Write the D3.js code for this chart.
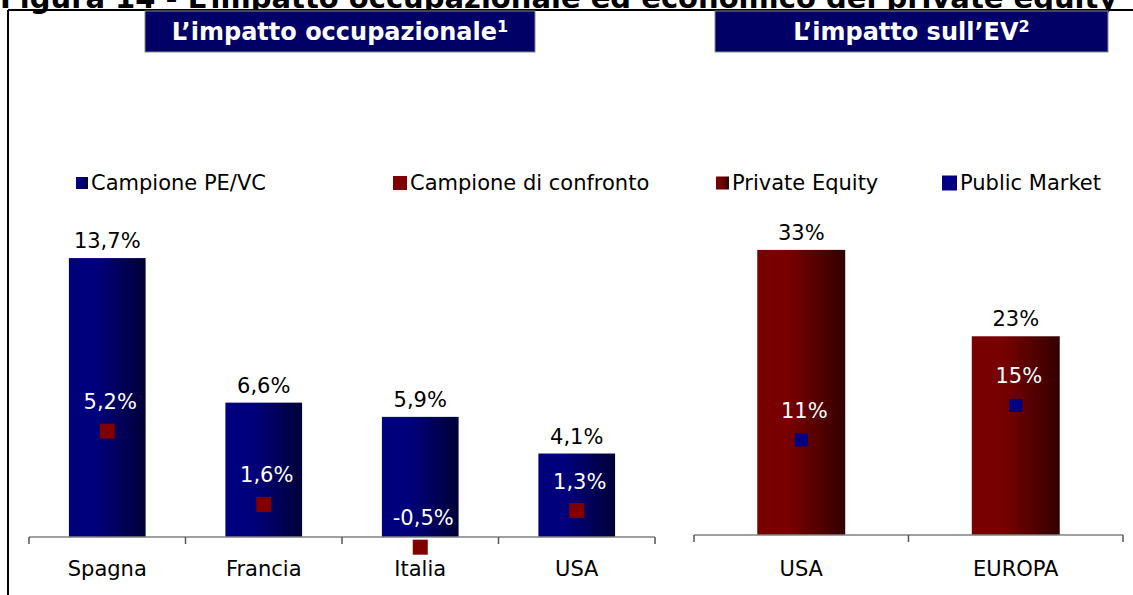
<!DOCTYPE html>
<html>
<head>
<meta charset="utf-8">
<script src="https://cdn.jsdelivr.net/npm/d3@7"></script>
<style>
  body { margin: 0; background: #fff; }
  svg { display: block; }
  text { font-family: "DejaVu Sans", Verdana, sans-serif; }
</style>
</head>
<body>
<div id="chart"></div>
<script>
// data
const occCategories = ["Spagna", "Francia", "Italia", "USA"];
const occPEVC = [13.7, 6.6, 5.9, 4.1];
const occConfronto = [5.2, 1.6, -0.5, 1.3];
const occLegend = ["Campione PE/VC", "Campione di confronto"];

const evCategories = ["USA", "EUROPA"];
const evPrivateEquity = [33, 23];
const evPublicMarket = [11, 15];
const evLegend = ["Private Equity", "Public Market"];

const titleText = "Figura 14 - L’impatto occupazionale ed economico del private equity";
const panelTitles = ["L’impatto occupazionale", "L’impatto sull’EV"];
const panelNotes = ["1", "2"];

const W = 1133, H = 595;
const navy = "#000080", darkRed = "#800000";
const FS = 21; // label font size
const it = d3.formatLocale({ decimal: ",", thousands: ".", grouping: [3], currency: ["€", ""], minus: "-" });
const fmt1 = v => it.format(".1f")(v) + "%";
const fmt0 = v => it.format(".0f")(v) + "%";

const svg = d3.select("#chart").append("svg")
  .attr("width", W)
  .attr("height", H);

const defs = svg.append("defs");
function grad(id, c0, c1) {
  const g = defs.append("linearGradient").attr("id", id)
    .attr("x1", 0).attr("x2", 1).attr("y1", 0).attr("y2", 0);
  g.append("stop").attr("offset", "0%").attr("stop-color", c0);
  g.append("stop").attr("offset", "35%").attr("stop-color", c0);
  g.append("stop").attr("offset", "100%").attr("stop-color", c1);
}
grad("gNavy", "#00007c", "#000038");
grad("gRed", "#780000", "#330000");

// figure title, cut by the top edge (as in the reference)
svg.append("text")
  .attr("x", 0)
  .attr("y", 8)
  .attr("font-size", 29)
  .attr("font-weight", "bold")
  .attr("fill", "#000")
  .text(titleText);

// frame
svg.append("line").attr("x1", 8).attr("x2", W).attr("y1", 10).attr("y2", 10)
  .attr("stroke", "#000").attr("stroke-width", 2);
svg.append("line").attr("x1", 8).attr("x2", 8).attr("y1", 10).attr("y2", H)
  .attr("stroke", "#000").attr("stroke-width", 2);

// panel header boxes
const headers = [{ x: 145, w: 390 }, { x: 715, w: 393 }];
headers.forEach((h, i) => {
  svg.append("rect")
    .attr("x", h.x).attr("y", 11).attr("width", h.w).attr("height", 41)
    .attr("fill", "#000066").attr("stroke", "#8a8a8a").attr("stroke-width", 1);
  const t = svg.append("text")
    .attr("x", h.x + h.w / 2).attr("y", 40)
    .attr("text-anchor", "middle")
    .attr("font-size", 24).attr("font-weight", "bold").attr("fill", "#fff")
    .text(panelTitles[i]);
  t.append("tspan").attr("font-size", 16).attr("dy", -8).text(panelNotes[i]);
});

// legends
function legendItem(x, y, size, fill, label) {
  svg.append("rect").attr("x", x).attr("y", y - size / 2).attr("width", size).attr("height", size).attr("fill", fill);
  svg.append("text").attr("x", x + size + 3).attr("y", y + 7)
    .attr("font-size", FS).attr("fill", "#000").text(label);
}
legendItem(76, 183, 12, "url(#gNavy)", occLegend[0]);
legendItem(393, 183, 14, darkRed, occLegend[1]);
legendItem(716, 183, 13, "url(#gRed)", evLegend[0]);
legendItem(942, 183, 15, navy, evLegend[1]);

// one panel: bars + marker series
function panel(opt) {
  const x = d3.scaleBand().domain(opt.cats).range(opt.xr)
    .paddingInner(opt.pad).paddingOuter(opt.pad / 2);
  const y = d3.scaleLinear().domain(opt.yd).range(opt.yr);
  const g = svg.append("g");

  g.selectAll("rect.bar").data(opt.bars).enter().append("rect")
    .attr("class", "bar")
    .attr("x", (d, i) => x(opt.cats[i]))
    .attr("y", d => y(d))
    .attr("width", x.bandwidth())
    .attr("height", d => y(0) - y(d))
    .attr("fill", opt.barFill);

  g.selectAll("text.bl").data(opt.bars).enter().append("text")
    .attr("class", "bl")
    .attr("x", (d, i) => x(opt.cats[i]) + x.bandwidth() / 2)
    .attr("y", d => y(d) - 10)
    .attr("text-anchor", "middle")
    .attr("font-size", FS).attr("fill", "#000")
    .text(opt.fmt);

  // axis line with ticks on the band boundaries
  const x0 = opt.xr[0], step = x.step();
  g.append("line").attr("x1", opt.xr[0]).attr("x2", opt.xr[1])
    .attr("y1", y(0)).attr("y2", y(0)).attr("stroke", "#808080").attr("stroke-width", 1.5);
  g.selectAll("line.tick").data(d3.range(opt.cats.length + 1)).enter().append("line")
    .attr("class", "tick")
    .attr("x1", i => x0 + i * step).attr("x2", i => x0 + i * step)
    .attr("y1", y(0)).attr("y2", y(0) + 7)
    .attr("stroke", "#555").attr("stroke-width", 1.5);
  g.selectAll("text.cat").data(opt.cats).enter().append("text")
    .attr("class", "cat")
    .attr("x", d => x(d) + x.bandwidth() / 2)
    .attr("y", 576)
    .attr("text-anchor", "middle")
    .attr("font-size", FS).attr("fill", "#000")
    .text(d => d);

  g.selectAll("rect.mk").data(opt.marks).enter().append("rect")
    .attr("class", "mk")
    .attr("x", (d, i) => x(opt.cats[i]) + x.bandwidth() / 2 - opt.mSize / 2)
    .attr("y", d => y(d) - opt.mSize / 2)
    .attr("width", opt.mSize).attr("height", opt.mSize)
    .attr("fill", opt.mFill);

  g.selectAll("text.ml").data(opt.marks).enter().append("text")
    .attr("class", "ml")
    .attr("x", (d, i) => x(opt.cats[i]) + x.bandwidth() / 2 + 3)
    .attr("y", d => y(d) - 22)
    .attr("text-anchor", "middle")
    .attr("font-size", FS).attr("fill", "#fff")
    .text(opt.fmt);
}

panel({
  cats: occCategories, bars: occPEVC, marks: occConfronto,
  xr: [29, 655], pad: 0.51,
  yd: [0, 16], yr: [537, 537 - 16 * 20.36],
  barFill: "url(#gNavy)", mFill: darkRed, mSize: 15, fmt: fmt1
});

panel({
  cats: evCategories, bars: evPrivateEquity, marks: evPublicMarket,
  xr: [694, 1123], pad: 0.59,
  yd: [0, 40], yr: [535, 535 - 40 * 8.64],
  barFill: "url(#gRed)", mFill: navy, mSize: 13, fmt: fmt0
});
</script>
</body>
</html>
